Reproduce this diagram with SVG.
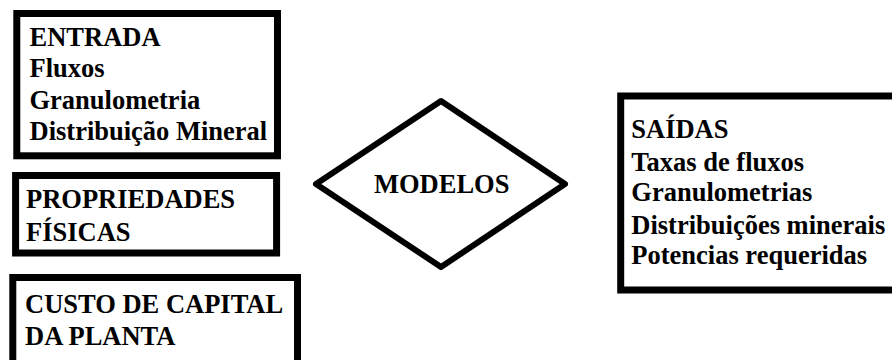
<svg xmlns="http://www.w3.org/2000/svg" width="892" height="360" viewBox="0 0 892 360">
<style>
.box{fill:#ffffff;stroke:#000000;stroke-width:7}
.dia{fill:#ffffff;stroke:#000000;stroke-width:6;stroke-linejoin:round}
</style>
<rect width="892" height="360" fill="#ffffff"/>
<g id="connectors"></g>
<g font-family="Liberation Serif, DejaVu Serif, serif" font-weight="bold" font-size="26.5" fill="#000000">
<g id="entrada">
<rect class="box" x="16.8" y="13.5" width="260.7" height="142.3"/>
<text x="29.5" y="45.5">ENTRADA</text>
<text x="29.5" y="77">Fluxos</text>
<text x="29.5" y="108.5">Granulometria</text>
<text x="29.5" y="140">Distribuição Mineral</text>
</g>
<g id="propriedades">
<rect class="box" x="15.6" y="175.5" width="261" height="77.5"/>
<text x="26" y="208.3">PROPRIEDADES</text>
<text x="26" y="241">FÍSICAS</text>
</g>
<g id="custo">
<rect class="box" x="12.8" y="277.5" width="284.7" height="100"/>
<text x="25" y="313.3">CUSTO DE CAPITAL</text>
<text x="25" y="345">DA PLANTA</text>
</g>
<g id="modelos">
<polygon class="dia" points="316,184 441,101 565,184 441,267"/>
<text x="441.7" y="193.3" text-anchor="middle">MODELOS</text>
</g>
<g id="saidas">
<rect class="box" x="620.7" y="96" width="300" height="194"/>
<text x="631.3" y="138.3">SAÍDAS</text>
<text x="631.3" y="170.7">Taxas de fluxos</text>
<text x="631.3" y="201">Granulometrias</text>
<text x="631.3" y="234">Distribuições minerais</text>
<text x="631.3" y="264.3">Potencias requeridas</text>
</g>
</g>
</svg>
